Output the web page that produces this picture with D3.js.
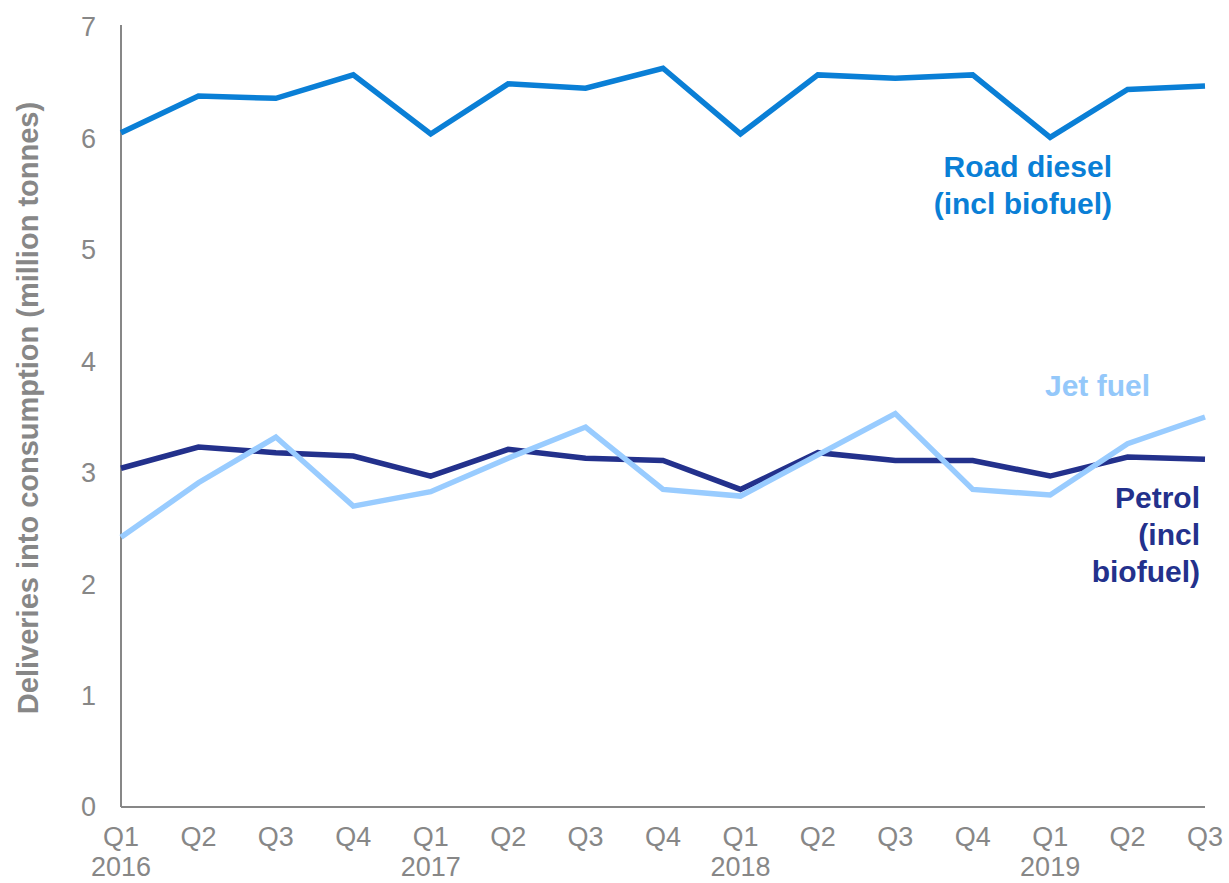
<!DOCTYPE html>
<html><head><meta charset="utf-8">
<script src="https://cdn.jsdelivr.net/npm/d3@7"></script>
<style>body{margin:0;background:#fff;}svg{display:block;font-family:"Liberation Sans",Arial,sans-serif;}</style>
</head><body>
<svg id="chart" width="1229" height="883"></svg>
<script>
const quarters = ["Q1","Q2","Q3","Q4","Q1","Q2","Q3","Q4","Q1","Q2","Q3","Q4","Q1","Q2","Q3"];
const years = ["2016","","","","2017","","","","2018","","","","2019","",""];
const roadDiesel = [6.05,6.38,6.36,6.57,6.04,6.49,6.45,6.63,6.04,6.57,6.54,6.57,6.01,6.44,6.47];
const petrol = [3.04,3.23,3.18,3.15,2.97,3.21,3.13,3.11,2.85,3.18,3.11,3.11,2.97,3.14,3.12];
const jetFuel = [2.42,2.91,3.32,2.70,2.83,3.13,3.41,2.85,2.79,3.16,3.53,2.85,2.80,3.26,3.50];
const yTicks = [0,1,2,3,4,5,6,7];

const svg = d3.select("#chart");
const x0 = 121, x1 = 1205, yb = 807, yt = 27;
const x = d3.scaleLinear().domain([0, quarters.length-1]).range([x0, x1]);
const y = d3.scaleLinear().domain([0, 7]).range([yb, yt]);
const grey = "#878787";

// axes lines
svg.append("line").attr("x1",x0).attr("x2",x0).attr("y1",25).attr("y2",yb).attr("stroke",grey).attr("stroke-width",2);
svg.append("line").attr("x1",x0).attr("x2",x1).attr("y1",yb).attr("y2",yb).attr("stroke",grey).attr("stroke-width",2);

// y tick labels
svg.selectAll(".yt").data(yTicks).enter().append("text")
  .attr("x",96).attr("y",d=>y(d)).attr("dy","0.35em").attr("text-anchor","end")
  .attr("fill",grey).attr("font-size",27).text(d=>d);

// x tick labels
svg.selectAll(".xq").data(quarters).enter().append("text")
  .attr("x",(d,i)=>x(i)).attr("y",846).attr("text-anchor","middle")
  .attr("fill",grey).attr("font-size",27).text(d=>d);
svg.selectAll(".xy").data(years).enter().append("text")
  .attr("x",(d,i)=>x(i)).attr("y",876).attr("text-anchor","middle")
  .attr("fill",grey).attr("font-size",27).text(d=>d);

// y title
svg.append("text").attr("transform","translate(28,408) rotate(-90)")
  .attr("text-anchor","middle").attr("dy","0.35em").attr("fill",grey)
  .attr("font-size",29).attr("font-weight","bold")
  .text("Deliveries into consumption (million tonnes)");

const line = d3.line().x((d,i)=>x(i)).y(d=>y(d));
const series = [
  {vals: petrol, color:"#23318c"},
  {vals: jetFuel, color:"#99ccff"},
  {vals: roadDiesel, color:"#0a7fd6"}
];
series.forEach(s=>{
  svg.append("path").datum(s.vals).attr("d",line).attr("fill","none")
    .attr("stroke",s.color).attr("stroke-width",5.5).attr("stroke-linejoin","miter");
});

function label(lines, xr, ys, color){
  lines.forEach((t,i)=>{
    svg.append("text").attr("x",xr).attr("y",ys[i])
      .attr("text-anchor","end").attr("fill",color).attr("font-size",30)
      .attr("font-weight","bold").text(t);
  });
}
label(["Road diesel","(incl biofuel)"],1112,[177,214],"#0a7fd6");
label(["Jet fuel"],1150,[396],"#94c8fa");
label(["Petrol","(incl","biofuel)"],1200,[508,545,582],"#23318c");
</script>
</body></html>
